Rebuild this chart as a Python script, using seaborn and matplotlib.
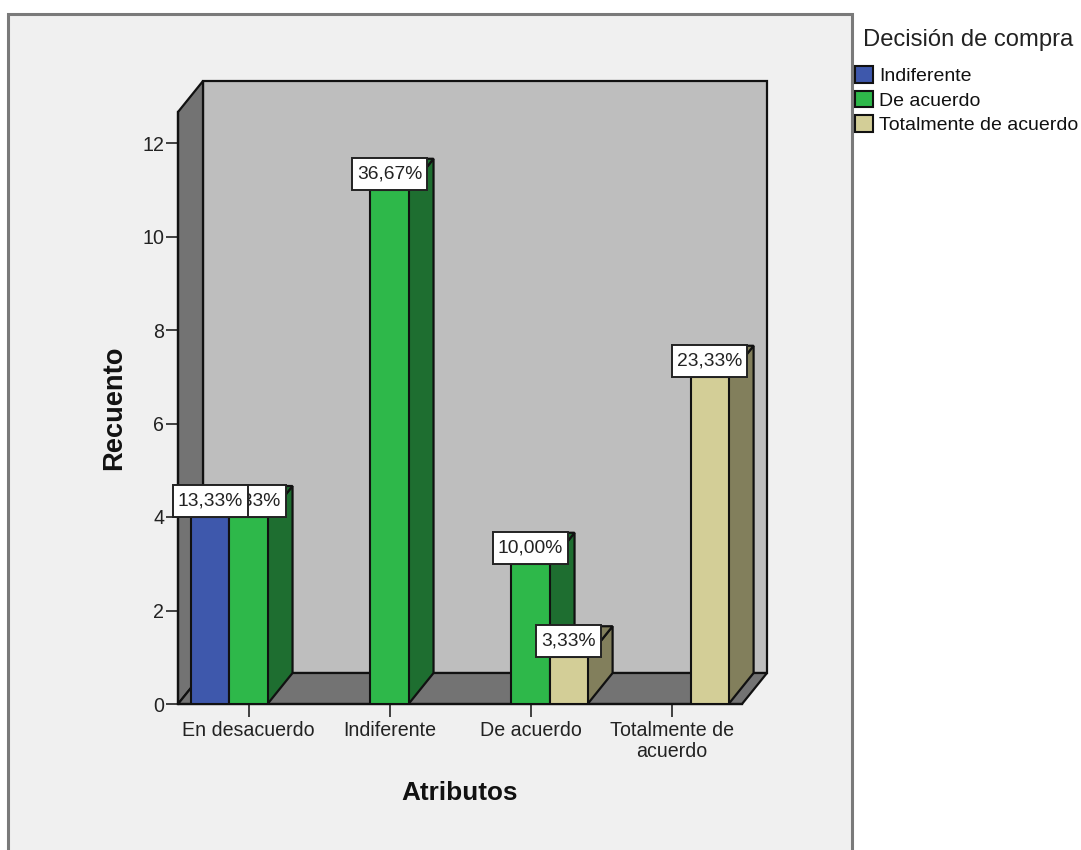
import numpy as np
import pandas as pd
import matplotlib
matplotlib.use("Agg")
import matplotlib.pyplot as plt
from matplotlib.patches import Polygon, Rectangle
from matplotlib.path import Path
import seaborn as sns

# Valores
categorias = ["En desacuerdo", "Indiferente", "De acuerdo", "Totalmente de\nacuerdo"]
series = ["Indiferente", "De acuerdo", "Totalmente de acuerdo"]
indiferente = [4, np.nan, np.nan, np.nan]
de_acuerdo = [4, 11, 3, np.nan]
totalmente = [np.nan, np.nan, 1, 7]
pct_indiferente = ["13,33%", None, None, None]
pct_de_acuerdo = ["13,33%", "36,67%", "10,00%", None]
pct_totalmente = [None, None, "3,33%", "23,33%"]

colores = {"Indiferente": "#3E58AC", "De acuerdo": "#2EB84A", "Totalmente de acuerdo": "#D3CE97"}
laterales = {"Indiferente": "#26376C", "De acuerdo": "#1E6E30", "Totalmente de acuerdo": "#827F5C"}

# Tabla larga para seaborn
filas = []
for nombre, vals, pcts in zip(series, [indiferente, de_acuerdo, totalmente],
                              [pct_indiferente, pct_de_acuerdo, pct_totalmente]):
    for cat, v, p in zip(categorias, vals, pcts):
        if not np.isnan(v):
            filas.append({"Atributos": cat, "Recuento": v, "Decisión": nombre, "pct": p})
df = pd.DataFrame(filas)


# Caja de etiqueta: mas relleno en vertical que en horizontal
def caja(x0, y0, ancho, alto, escala):
    px, py = 0.26 * escala, 0.39 * escala
    return Path([(x0 - px, y0 - py), (x0 + ancho + px, y0 - py), (x0 + ancho + px, y0 + alto + py),
                 (x0 - px, y0 + alto + py), (x0 - px, y0 - py)], closed=True)


W, H = 1081, 850
sns.set_theme(style="ticks")
plt.rcParams["font.family"] = ["Liberation Sans", "DejaVu Sans"]

fig = plt.figure(figsize=(W / 100, H / 100), dpi=100, facecolor="white")

# Panel gris del fondo
fig.add_artist(Rectangle((8 / W, -0.02), 844 / W, 1 - 14 / H + 0.02, transform=fig.transFigure,
                         facecolor="#F0F0F0", edgecolor="#7A7A7A", linewidth=2.2, zorder=-1))

ax = fig.add_axes([178 / W, 1 - 704 / H, 564 / W, 592 / H])
ax.patch.set_visible(False)

sns.barplot(data=df, x="Atributos", y="Recuento", hue="Decisión", order=categorias, hue_order=series,
            palette=colores, width=0.81, edgecolor="#111111", linewidth=1.5, saturation=1,
            err_kws={"linewidth": 0}, zorder=3, ax=ax)

ax.set_xlim(-0.5, 3.5)
ax.set_ylim(0, 592 / 46.75)

# Profundidad en unidades de datos
prof_x = 25 / 141
prof_y = 31 / 46.75
x0, x1 = ax.get_xlim()
y0, y1 = ax.get_ylim()
borde = dict(edgecolor="#111111", linewidth=1.6, clip_on=False, joinstyle="miter")

ax.add_patch(Polygon([(x0 + prof_x, y0 + prof_y), (x1 + prof_x, y0 + prof_y), (x1 + prof_x, y1 + prof_y),
                      (x0 + prof_x, y1 + prof_y)], facecolor="#BEBEBE", zorder=0.5, **borde))
ax.add_patch(Polygon([(x0, y0), (x0 + prof_x, y0 + prof_y), (x0 + prof_x, y1 + prof_y), (x0, y1)],
                     facecolor="#737373", zorder=0.6, **borde))
ax.add_patch(Polygon([(x0, y0), (x1, y0), (x1 + prof_x, y0 + prof_y), (x0 + prof_x, y0 + prof_y)],
                     facecolor="#737373", zorder=0.6, **borde))

# Caras laterales y superiores de cada barra
orden_z = {"Indiferente": 6, "De acuerdo": 5, "Totalmente de acuerdo": 7}
for nombre, cont in zip(series, ax.containers):
    datos = df[df["Decisión"] == nombre].set_index("Atributos")
    for barra in cont:
        izq = barra.get_x()
        der = izq + barra.get_width()
        alto = barra.get_height()
        if np.isnan(alto):
            continue
        ax.add_patch(Polygon([(der, 0), (der + prof_x, prof_y), (der + prof_x, alto + prof_y), (der, alto)],
                             facecolor=laterales[nombre], zorder=2, **borde))
        ax.add_patch(Polygon([(izq, alto), (der, alto), (der + prof_x, alto + prof_y), (izq + prof_x, alto + prof_y)],
                             facecolor=laterales[nombre], zorder=2, **borde))
        # etiqueta con el porcentaje, la categoria sale de la posicion de la barra
        centro = izq + barra.get_width() / 2
        cat = categorias[int(round(centro))]
        ax.annotate(datos.loc[cat, "pct"], (centro, alto), xytext=(0, 11.5), textcoords="offset points",
                    ha="center", va="center", fontsize=13.9, color="#222222", zorder=orden_z[nombre],
                    annotation_clip=False,
                    bbox=dict(boxstyle=caja, facecolor="white", edgecolor="#222222", linewidth=1.4))

ax.set_yticks([0, 2, 4, 6, 8, 10, 12])
ax.tick_params(axis="y", length=8.5, width=1.2, color="#222222", labelsize=14.1, labelcolor="#222222", pad=1.5)
ax.tick_params(axis="x", length=9, width=1.2, color="#222222", labelsize=14.1, labelcolor="#222222", pad=3.5)
for t in ax.get_xticklabels():
    t.set_linespacing(1.14)
ax.set_xlabel("Atributos", fontsize=18.8, fontweight="bold", color="#111111", labelpad=14)
ax.set_ylabel("Recuento", fontsize=19.6, fontweight="bold", color="#111111", labelpad=10.5)
for lado in ["top", "right"]:
    ax.spines[lado].set_visible(False)
for lado in ["left", "bottom"]:
    ax.spines[lado].set_linewidth(1.6)
    ax.spines[lado].set_color("#111111")
    ax.spines[lado].set_zorder(2.5)

sns.move_legend(ax, "upper left", bbox_to_anchor=(851 / W, 1 - 35 / H), bbox_transform=fig.transFigure,
                title="Decisión de compra", frameon=False, fontsize=14.0, title_fontsize=17.1,
                handlelength=0.93, handleheight=0.93, handletextpad=0.3, labelspacing=0.28,
                borderpad=0.2, borderaxespad=0, alignment="left")
leyenda = ax.get_legend()
leyenda.get_title().set_position((8, 10))
leyenda.get_title().set_color("#222222")
for txt in leyenda.get_texts():
    txt.set_color("#111111")

fig.savefig("out.png", dpi=100)
